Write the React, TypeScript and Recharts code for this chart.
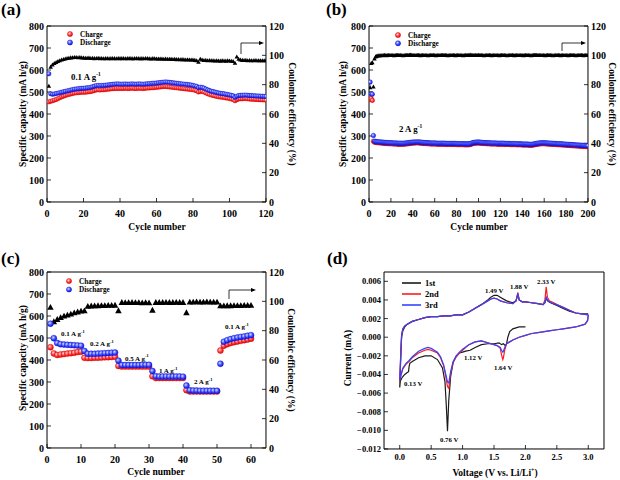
import React from 'react';
import { ComposedChart, LineChart, Line, XAxis, YAxis } from 'recharts';

const FONT = '"Liberation Serif", "Times New Roman", serif';

// (a) 0.1 A g-1 cycling, cycles 1..120 (mA h/g, %)
const chargeA = [
  455, 458, 460, 463, 466, 470, 474, 478, 481, 484,
  487, 489, 491, 493, 495, 496, 497, 498, 499, 499,
  499, 500, 501, 502, 504, 507, 509, 510, 509, 510,
  510, 511, 512, 513, 514, 515, 516, 516, 516, 516,
  516, 516, 517, 516, 516, 517, 517, 516, 516, 517,
  517, 516, 516, 517, 518, 518, 519, 519, 520, 521,
  522, 523, 524, 525, 525, 524, 523, 522, 521, 520,
  519, 518, 517, 516, 515, 514, 513, 512, 511, 510,
  508, 506, 500, 502, 503, 500, 496, 492, 489, 486,
  484, 482, 480, 478, 477, 476, 475, 473, 472, 470,
  468, 466, 460, 465, 468, 469, 469, 470, 470, 469,
  468, 467, 467, 466, 466, 465, 465, 464, 464, 463,
];
const dischargeA = [
  583, 492, 490, 491, 493, 495, 497, 499, 501, 503,
  505, 507, 509, 511, 513, 514, 515, 516, 517, 517,
  518, 519, 520, 522, 524, 527, 529, 530, 529, 530,
  530, 531, 532, 533, 534, 535, 536, 537, 537, 536,
  536, 536, 537, 536, 536, 537, 537, 536, 536, 537,
  537, 536, 536, 537, 538, 538, 539, 540, 540, 541,
  542, 543, 544, 545, 546, 545, 544, 543, 542, 541,
  540, 539, 538, 537, 536, 535, 534, 533, 532, 530,
  528, 526, 520, 522, 521, 518, 514, 510, 507, 504,
  502, 500, 498, 496, 494, 493, 492, 490, 489, 487,
  485, 483, 476, 481, 484, 485, 485, 486, 486, 485,
  484, 484, 483, 483, 482, 482, 481, 481, 480, 480,
];
const ceA = [
  79, 92, 93.5, 94.5, 95.2, 95.8, 96.3, 96.8, 97.2, 97.6,
  97.9, 98.1, 98.3, 98.4, 98.5, 98.5, 98.4, 98.5, 98.3, 98.2,
  98.1, 98.0, 98.2, 97.9, 98.0, 97.8, 97.9, 98.0, 97.8, 97.9,
  97.7, 97.8, 97.9, 97.7, 97.8, 97.9, 97.8, 97.7, 97.9, 97.8,
  97.8, 97.9, 97.7, 97.8, 97.9, 97.8, 97.7, 97.8, 97.9, 97.8,
  97.7, 97.8, 97.7, 97.9, 97.8, 97.7, 97.6, 97.8, 97.7, 97.6,
  97.6, 97.5, 97.6, 97.4, 97.5, 97.3, 97.4, 97.3, 97.2, 97.3,
  97.1, 97.2, 97.0, 97.1, 97.0, 96.9, 97.0, 96.8, 96.9, 96.8,
  96.6, 96.4, 95.3, 97.4, 96.8, 96.5, 96.6, 96.4, 96.5, 96.3,
  96.4, 96.2, 96.3, 96.2, 96.1, 96.3, 96.2, 96.1, 96.3, 96.2,
  96.0, 95.8, 94.6, 98.9, 97.4, 96.9, 96.6, 96.5, 96.6, 96.4,
  96.5, 96.4, 96.3, 96.5, 96.4, 96.3, 96.4, 96.3, 96.4, 96.3,
];

// (b) 2 A g-1 cycling, cycles 1..200
const chargeB = [
  466, 470, 462, 276, 272, 271, 270, 270, 269, 269,
  268, 268, 267, 267, 266, 266, 266, 265, 265, 265,
  265, 264, 264, 264, 264, 263, 263, 263, 263, 263,
  263, 263, 264, 264, 265, 265, 266, 267, 267, 268,
  268, 268, 269, 269, 269, 268, 268, 267, 267, 266,
  266, 266, 265, 265, 265, 264, 264, 264, 264, 264,
  264, 263, 263, 263, 263, 263, 263, 263, 263, 262,
  262, 262, 262, 262, 262, 262, 262, 262, 262, 261,
  261, 261, 261, 261, 261, 261, 260, 260, 260, 260,
  260, 261, 262, 264, 266, 267, 267, 268, 268, 268,
  268, 267, 267, 266, 266, 266, 265, 265, 265, 265,
  264, 264, 264, 264, 264, 264, 263, 263, 263, 263,
  263, 263, 263, 262, 262, 262, 262, 262, 261, 261,
  261, 261, 261, 261, 260, 260, 260, 260, 260, 259,
  259, 259, 259, 259, 259, 258, 258, 258, 258, 259,
  260, 261, 262, 263, 264, 264, 265, 265, 265, 265,
  265, 264, 264, 264, 263, 263, 263, 262, 262, 262,
  261, 261, 261, 260, 260, 260, 259, 259, 259, 258,
  258, 258, 257, 257, 257, 256, 256, 256, 255, 255,
  255, 254, 254, 254, 253, 253, 253, 252, 252, 252,
];
const dischargeB = [
  545, 492, 490, 302, 276, 275, 274, 274, 273, 273,
  272, 272, 271, 271, 270, 270, 270, 269, 269, 269,
  269, 268, 268, 268, 268, 267, 267, 267, 267, 267,
  267, 267, 268, 268, 269, 269, 270, 271, 271, 272,
  272, 272, 273, 273, 273, 272, 272, 271, 271, 270,
  270, 270, 269, 269, 269, 268, 268, 268, 268, 268,
  268, 267, 267, 267, 267, 267, 267, 267, 267, 266,
  266, 266, 266, 266, 266, 266, 266, 266, 266, 265,
  265, 265, 265, 265, 265, 265, 264, 264, 264, 264,
  264, 265, 266, 268, 270, 271, 271, 272, 272, 272,
  272, 271, 271, 270, 270, 270, 269, 269, 269, 269,
  268, 268, 268, 268, 268, 268, 267, 267, 267, 267,
  267, 267, 267, 266, 266, 266, 266, 266, 265, 265,
  265, 265, 265, 265, 264, 264, 264, 264, 264, 263,
  263, 263, 263, 263, 263, 262, 262, 262, 262, 263,
  264, 265, 266, 267, 268, 268, 269, 269, 269, 269,
  269, 268, 268, 268, 267, 267, 267, 266, 266, 266,
  265, 265, 265, 264, 264, 264, 263, 263, 263, 262,
  262, 262, 261, 261, 261, 260, 260, 260, 259, 259,
  259, 258, 258, 258, 257, 257, 257, 256, 256, 256,
];
const ceB = [
  78, 94.5, 95, 78.5, 97.5, 99, 99.4, 99.6, 99.7, 99.8,
  99.9, 99.8, 99.9, 100.0, 99.9, 99.8, 99.9, 100.0, 99.9, 99.9,
  100.0, 99.9, 99.8, 99.9, 100.0, 100.1, 99.9, 99.9, 100.0, 99.9,
  99.8, 99.9, 100.0, 100.1, 100.0, 99.9, 100.1, 100.2, 100.0, 99.9,
  100.0, 99.9, 99.9, 100.0, 100.1, 99.9, 99.8, 99.9, 100.0, 99.9,
  99.9, 100.0, 99.9, 99.8, 99.9, 100.0, 99.9, 99.9, 100.0, 99.9,
  99.8, 99.9, 100.0, 99.9, 99.9, 100.0, 100.1, 99.9, 99.9, 100.0,
  99.9, 99.8, 99.9, 100.0, 99.9, 99.9, 100.0, 99.9, 99.8, 99.9,
  100.0, 99.9, 99.9, 100.0, 99.9, 99.8, 99.9, 100.0, 99.9, 99.9,
  100.0, 100.1, 100.2, 100.1, 100.0, 99.9, 100.0, 99.9, 99.9, 100.0,
  99.9, 99.9, 100.0, 99.9, 99.8, 99.9, 100.0, 99.9, 99.9, 100.0,
  99.9, 99.8, 99.9, 100.0, 99.9, 99.9, 100.0, 99.9, 99.8, 99.9,
  100.0, 99.9, 99.9, 100.0, 99.9, 99.8, 99.9, 100.0, 99.9, 99.9,
  100.0, 99.9, 99.8, 99.9, 100.0, 99.9, 99.9, 100.0, 99.9, 99.9,
  99.8, 99.9, 100.0, 99.9, 99.9, 100.0, 99.9, 99.8, 99.9, 100.1,
  100.1, 100.0, 100.0, 99.9, 99.9, 100.0, 99.9, 99.9, 100.0, 99.9,
  99.8, 99.9, 100.0, 99.9, 99.9, 100.0, 99.9, 99.8, 99.9, 100.0,
  99.9, 99.9, 100.0, 99.9, 99.8, 99.9, 100.0, 99.9, 99.9, 100.0,
  99.9, 99.8, 99.9, 100.0, 99.9, 99.9, 100.0, 99.9, 99.8, 99.9,
  100.0, 99.9, 99.9, 100.0, 99.9, 99.8, 99.9, 100.0, 99.9, 99.9,
];

// (c) rate test, cycles 1..60
const chargeC = [
  458, 430, 423, 425, 427, 429, 431, 433, 436, 438,
  410, 409, 409, 410, 410, 411, 412, 413, 414, 415,
  373, 370, 370, 370, 370, 370, 370, 370, 370, 370,
  326, 318, 318, 318, 318, 318, 318, 318, 318, 318,
  263, 257, 257, 257, 257, 257, 257, 257, 257, 257,
  443, 465, 472, 477, 481, 484, 487, 490, 493, 497,
];
const dischargeC = [
  565, 499, 477, 472, 470, 469, 468, 467, 466, 465,
  441, 428, 428, 428, 429, 430, 431, 432, 433, 434,
  397, 377, 377, 377, 377, 377, 377, 378, 378, 378,
  350, 326, 325, 325, 325, 325, 325, 325, 325, 324,
  284, 262, 261, 261, 260, 260, 260, 260, 260, 260,
  383, 483, 490, 495, 499, 502, 505, 507, 510, 513,
];
const ceC = [
  95.8, 86, 87.5, 88.8, 89.8, 90.5, 91.2, 92, 92.6, 93.2,
  93.4, 96.5, 96.7, 96.8, 96.9, 97, 97, 97.1, 97.1, 97.2,
  93.5, 99.1, 99, 99, 99.1, 99, 99, 98.9, 99, 98.9,
  93.8, 99.1, 99.1, 99.1, 99.2, 99.1, 99.1, 99.2, 99.1, 99.1,
  92.1, 99.4, 99.4, 99.5, 99.4, 99.4, 99.5, 99.4, 99.4, 99.4,
  96.8, 96.8, 96.9, 96.9, 97, 97, 97, 97.1, 97.1, 97.1,
];
const rateLabels = [
  { text: '0.1 A g', x: 61, y: 336 },
  { text: '0.2 A g', x: 90, y: 346 },
  { text: '0.5 A g', x: 125, y: 360.5 },
  { text: '1 A g', x: 159, y: 373 },
  { text: '2 A g', x: 194, y: 384 },
  { text: '0.1 A g', x: 225, y: 329 },
];

// (d) cyclic voltammetry, [V, mA]
const cv1st: [number, number][] = [
  [2.0, 0.0011], [1.9, 0.0011], [1.8, 0.0009], [1.75, 0.0006], [1.72, 0.0], [1.7, -0.0007],
  [1.68, -0.0009], [1.65, -0.0007], [1.62, -0.0008], [1.58, -0.0006], [1.5, -0.0007], [1.4, -0.0007],
  [1.3, -0.0008], [1.2, -0.0011], [1.12, -0.0014], [1.05, -0.0015], [1.0, -0.0016], [0.95, -0.0017],
  [0.9, -0.0020], [0.85, -0.0027], [0.81, -0.0042], [0.78, -0.0068], [0.76, -0.0101], [0.74, -0.0072],
  [0.72, -0.0048], [0.68, -0.0033], [0.6, -0.0024], [0.5, -0.0020], [0.4, -0.0020], [0.3, -0.0022],
  [0.2, -0.0026], [0.16, -0.0028], [0.15, -0.0031], [0.14, -0.0037], [0.12, -0.0038], [0.08, -0.0040],
  [0.04, -0.0043], [0.01, -0.0047], [0.0, -0.0054],
  [0.01, -0.0035], [0.02, -0.0015], [0.03, 0.0], [0.05, 0.0007], [0.08, 0.0011], [0.12, 0.0014],
  [0.2, 0.0017], [0.3, 0.0019], [0.4, 0.0021], [0.5, 0.0022], [0.6, 0.0022], [0.7, 0.0023],
  [0.8, 0.0023], [0.9, 0.0024], [1.0, 0.0024], [1.1, 0.0027], [1.2, 0.0031], [1.3, 0.0035],
  [1.4, 0.0040], [1.45, 0.0043], [1.5, 0.0045], [1.55, 0.0045], [1.6, 0.0043], [1.7, 0.0039],
  [1.8, 0.0037], [1.85, 0.0039], [1.88, 0.0046], [1.9, 0.0040], [1.95, 0.0038], [2.0, 0.0038],
  [2.1, 0.0037], [2.2, 0.0036], [2.28, 0.0035], [2.31, 0.0037], [2.33, 0.0042], [2.35, 0.0039],
  [2.4, 0.0037], [2.5, 0.0034], [2.6, 0.0031], [2.7, 0.0028], [2.8, 0.0026], [2.9, 0.0025],
  [3.0, 0.0025],
];
const cv2nd: [number, number][] = [
  [3.0, 0.0024], [2.99, 0.0018], [2.95, 0.0014], [2.9, 0.0013], [2.8, 0.0011], [2.7, 0.0010],
  [2.6, 0.0009], [2.5, 0.0008], [2.4, 0.0007], [2.3, 0.0006], [2.2, 0.0005], [2.1, 0.0004],
  [2.0, 0.0002], [1.9, 0.0], [1.8, -0.0003], [1.75, -0.0005], [1.7, -0.0007], [1.67, -0.0014],
  [1.65, -0.0022], [1.64, -0.0024], [1.62, -0.0019], [1.6, -0.0012], [1.55, -0.0009], [1.5, -0.0008],
  [1.4, -0.0006], [1.3, -0.0004], [1.2, -0.0005], [1.1, -0.0008], [1.0, -0.0014], [0.95, -0.0017],
  [0.9, -0.0021], [0.85, -0.0027], [0.81, -0.0039], [0.78, -0.0055], [0.76, -0.0053], [0.73, -0.0041],
  [0.7, -0.0031], [0.65, -0.0022], [0.6, -0.0017], [0.5, -0.0014], [0.45, -0.0013], [0.4, -0.0014],
  [0.3, -0.0017], [0.2, -0.0022], [0.15, -0.0026], [0.1, -0.0029], [0.05, -0.0034], [0.02, -0.0041],
  [0.0, -0.0047],
  [0.01, -0.0030], [0.02, -0.0012], [0.03, 0.0002], [0.05, 0.0009], [0.08, 0.0012], [0.12, 0.0014],
  [0.2, 0.0017], [0.3, 0.0019], [0.4, 0.0021], [0.5, 0.0022], [0.6, 0.0022], [0.7, 0.0023],
  [0.8, 0.0023], [0.9, 0.0024], [1.0, 0.0024], [1.1, 0.0027], [1.2, 0.0031], [1.3, 0.0035],
  [1.4, 0.0039], [1.45, 0.0041], [1.5, 0.0042], [1.55, 0.0041], [1.6, 0.0039], [1.7, 0.0037],
  [1.8, 0.0036], [1.85, 0.0039], [1.88, 0.0048], [1.9, 0.0040], [1.95, 0.0038], [2.0, 0.0038],
  [2.1, 0.0037], [2.2, 0.0036], [2.28, 0.0035], [2.31, 0.0040], [2.33, 0.0054], [2.35, 0.0043],
  [2.38, 0.0039], [2.45, 0.0037], [2.5, 0.0035], [2.6, 0.0032], [2.7, 0.0029], [2.8, 0.0026],
  [2.9, 0.0025], [3.0, 0.0024],
];
const cv3rd: [number, number][] = [
  [3.0, 0.0024], [2.99, 0.0018], [2.95, 0.0014], [2.9, 0.0013], [2.8, 0.0011], [2.7, 0.0010],
  [2.6, 0.0009], [2.5, 0.0008], [2.4, 0.0007], [2.3, 0.0006], [2.2, 0.0005], [2.1, 0.0004],
  [2.0, 0.0002], [1.9, 0.0], [1.8, -0.0003], [1.75, -0.0005], [1.7, -0.0007], [1.67, -0.0011],
  [1.65, -0.0015], [1.64, -0.0016], [1.62, -0.0014], [1.6, -0.0011], [1.55, -0.0009], [1.5, -0.0008],
  [1.4, -0.0006], [1.3, -0.0004], [1.2, -0.0005], [1.1, -0.0008], [1.0, -0.0013], [0.95, -0.0016],
  [0.9, -0.0020], [0.85, -0.0026], [0.81, -0.0037], [0.78, -0.0049], [0.76, -0.0048], [0.73, -0.0039],
  [0.7, -0.0030], [0.65, -0.0021], [0.6, -0.0016], [0.5, -0.0012], [0.45, -0.0011], [0.4, -0.0012],
  [0.3, -0.0015], [0.2, -0.0021], [0.15, -0.0025], [0.1, -0.0028], [0.05, -0.0033], [0.02, -0.0040],
  [0.0, -0.0046],
  [0.01, -0.0029], [0.02, -0.0011], [0.03, 0.0003], [0.05, 0.0009], [0.08, 0.0012], [0.12, 0.0014],
  [0.2, 0.0017], [0.3, 0.0019], [0.4, 0.0021], [0.5, 0.0022], [0.6, 0.0022], [0.7, 0.0023],
  [0.8, 0.0023], [0.9, 0.0024], [1.0, 0.0024], [1.1, 0.0027], [1.2, 0.0031], [1.3, 0.0035],
  [1.4, 0.0039], [1.45, 0.0041], [1.5, 0.0042], [1.55, 0.0041], [1.6, 0.0039], [1.7, 0.0037],
  [1.8, 0.0036], [1.85, 0.0039], [1.88, 0.0047], [1.9, 0.0040], [1.95, 0.0038], [2.0, 0.0038],
  [2.1, 0.0037], [2.2, 0.0036], [2.28, 0.0035], [2.31, 0.0037], [2.33, 0.0043], [2.35, 0.0040],
  [2.38, 0.0038], [2.45, 0.0036], [2.5, 0.0035], [2.6, 0.0032], [2.7, 0.0029], [2.8, 0.0026],
  [2.9, 0.0025], [3.0, 0.0024],
];
const peakLabels = [
  { text: '0.13 V', x: 404, y: 386 },
  { text: '0.76 V', x: 440, y: 442 },
  { text: '1.12 V', x: 464, y: 360 },
  { text: '1.64 V', x: 494, y: 370 },
  { text: '1.49 V', x: 485, y: 293 },
  { text: '1.88 V', x: 510, y: 289 },
  { text: '2.33 V', x: 537, y: 284 },
];

// ticks
const capTicks = [0, 100, 200, 300, 400, 500, 600, 700, 800];
const capMinor = [50, 150, 250, 350, 450, 550, 650, 750];
const ceTicks = [0, 20, 40, 60, 80, 100, 120];
const ceMinor = [10, 30, 50, 70, 90, 110];
const cycTicksA = [0, 20, 40, 60, 80, 100, 120];
const cycMinorA = [10, 30, 50, 70, 90, 110];
const cycTicksB = [0, 20, 40, 60, 80, 100, 120, 140, 160, 180, 200];
const cycMinorB = [10, 30, 50, 70, 90, 110, 130, 150, 170, 190];
const cycTicksC = [0, 10, 20, 30, 40, 50, 60];
const cycMinorC = [5, 15, 25, 35, 45, 55];
const vTicks = [0, 0.5, 1.0, 1.5, 2.0, 2.5, 3.0];
const vMinor = [0.25, 0.75, 1.25, 1.75, 2.25, 2.75];
const iTicks = [-0.012, -0.01, -0.008, -0.006, -0.004, -0.002, 0, 0.002, 0.004, 0.006];
const iMinor = [-0.011, -0.009, -0.007, -0.005, -0.003, -0.001, 0.001, 0.003, 0.005];

const toRows = (charge: number[], discharge: number[], ce: number[]) =>
  charge.map((c, i) => ({ cycle: i + 1, charge: c, discharge: discharge[i], ce: ce[i] }));
const toCv = (pts: [number, number][]) => pts.map(([v, i]) => ({ v, i }));

const ball = (id: string, r: number, edge: string) => (p: any) =>
  p.cx == null || p.cy == null ? (
    <g key={p.index} />
  ) : (
    <circle key={p.index} cx={p.cx} cy={p.cy} r={r} fill={`url(#${id})`} stroke={edge} strokeWidth={0.4} />
  );

const tri = (s: number) => (p: any) =>
  p.cx == null || p.cy == null ? (
    <g key={p.index} />
  ) : (
    <path
      key={p.index}
      d={`M${p.cx},${p.cy - s * 0.55}L${p.cx + s / 2},${p.cy + s * 0.35}L${p.cx - s / 2},${p.cy + s * 0.35}Z`}
      fill="#000"
    />
  );

type Frame = {
  xKey: string;
  xDomain: [number, number];
  xTicks: number[];
  xMinor: number[];
  lDomain: [number, number];
  lTicks: number[];
  lMinor: number[];
  rTicks?: number[];
  rMinor?: number[];
  font: number;
  xGap: number;
  xFmt?: (v: number) => string;
  lFmt?: (v: number) => string;
};

// axes get a hair of size (recharts skips zero-sized ones); margins place the plot box
const HAIR = 0.01;

// Origin-style box: inward major + minor ticks, plain top (and right) line
function frameAxes(f: Frame) {
  const line = { stroke: '#000', strokeWidth: 1 };
  const tl = { stroke: '#000', strokeWidth: 0.8 };
  const tk = { fontSize: f.font, fontWeight: 700, fill: '#000', fontFamily: FONT };
  const out = [
    <XAxis key="x" xAxisId="x" type="number" dataKey={f.xKey} domain={f.xDomain} ticks={f.xTicks}
      interval={0} allowDataOverflow height={HAIR} axisLine={line} tickLine={tl} tickSize={-4}
      tickMargin={f.xGap} tick={tk} tickFormatter={f.xFmt} />,
    <XAxis key="xm" xAxisId="xm" type="number" domain={f.xDomain} ticks={f.xMinor} interval={0}
      allowDataOverflow height={HAIR} axisLine={false} tickLine={tl} tickSize={-2} tick={false} />,
    <XAxis key="xt" xAxisId="xt" orientation="top" type="number" domain={f.xDomain} height={HAIR}
      axisLine={line} tickLine={false} tick={false} />,
    <YAxis key="l" yAxisId="l" type="number" domain={f.lDomain} ticks={f.lTicks} interval={0}
      allowDataOverflow width={HAIR} axisLine={line} tickLine={tl} tickSize={-4} tickMargin={7}
      tick={tk} tickFormatter={f.lFmt} />,
    <YAxis key="lm" yAxisId="lm" type="number" domain={f.lDomain} ticks={f.lMinor} interval={0}
      allowDataOverflow width={HAIR} axisLine={false} tickLine={tl} tickSize={-2} tick={false} />,
  ];
  if (f.rTicks && f.rMinor) {
    out.push(
      <YAxis key="r" yAxisId="r" orientation="right" type="number" domain={[0, 120]} ticks={f.rTicks}
        interval={0} allowDataOverflow width={HAIR} axisLine={line} tickLine={tl} tickSize={-4}
        tickMargin={7} tick={tk} />,
      <YAxis key="rm" yAxisId="rm" orientation="right" type="number" domain={[0, 120]} ticks={f.rMinor}
        interval={0} allowDataOverflow width={HAIR} axisLine={false} tickLine={tl} tickSize={-2} tick={false} />,
    );
  } else {
    out.push(
      <YAxis key="r" yAxisId="r" orientation="right" type="number" domain={f.lDomain} width={HAIR}
        axisLine={line} tickLine={false} tick={false} />,
    );
  }
  return out;
}

function CyclePanel(props: {
  left: number;
  top: number;
  margin: { top: number; right: number; bottom: number; left: number };
  rows: any[];
  frame: Frame;
  r: number;
  triSize: number;
}) {
  const { left, top, margin, rows, frame, r, triSize } = props;
  return (
    <div style={{ position: 'absolute', left, top }}>
      <ComposedChart width={310} height={240} data={rows} margin={margin}>
        {frameAxes(frame)}
        <Line xAxisId="x" yAxisId="r" dataKey="ce" stroke="none" dot={tri(triSize)} activeDot={false}
          isAnimationActive={false} />
        <Line xAxisId="x" yAxisId="l" dataKey="charge" stroke="none" dot={ball('gRed', r, '#d40000')}
          activeDot={false} isAnimationActive={false} />
        <Line xAxisId="x" yAxisId="l" dataKey="discharge" stroke="none" dot={ball('gBlue', r, '#1010d0')}
          activeDot={false} isAnimationActive={false} />
      </ComposedChart>
    </div>
  );
}

const txt = { fontFamily: FONT, fontWeight: 700, fill: '#000' } as const;

function Sup({ base, sup, x, y, size }: { base: string; sup: string; x: number; y: number; size: number }) {
  return (
    <text x={x} y={y} fontSize={size} {...txt}>
      {base}
      <tspan dy={-size * 0.45} fontSize={size * 0.62}>{sup}</tspan>
    </text>
  );
}

function Legend2({ x, y, dy }: { x: number; y: number; dy: number }) {
  return (
    <g>
      <circle cx={x} cy={y} r={2.6} fill="url(#gRed)" stroke="#d40000" strokeWidth={0.4} />
      <text x={x + 10} y={y + 2.5} fontSize={7.2} {...txt}>Charge</text>
      <circle cx={x} cy={y + dy} r={2.6} fill="url(#gBlue)" stroke="#1010d0" strokeWidth={0.4} />
      <text x={x + 10} y={y + dy + 2.5} fontSize={7.2} {...txt}>Discharge</text>
    </g>
  );
}

function Arrow({ x, y0, y1, x1 }: { x: number; y0: number; y1: number; x1: number }) {
  return (
    <g>
      <path d={`M${x},${y0}V${y1}H${x1 - 3}`} fill="none" stroke="#000" strokeWidth={0.8} />
      <path d={`M${x1},${y1}L${x1 - 5},${y1 - 2}L${x1 - 5},${y1 + 2}Z`} fill="#000" />
    </g>
  );
}

function YTitle({ x, y, rot, text }: { x: number; y: number; rot: number; text: string }) {
  return (
    <text x={x} y={y} transform={`rotate(${rot} ${x} ${y})`} textAnchor="middle" fontSize={9.5} {...txt}>
      {text}
    </text>
  );
}

export default function App() {
  const rowsA = toRows(chargeA, dischargeA, ceA);
  const rowsB = toRows(chargeB, dischargeB, ceB);
  const rowsC = toRows(chargeC, dischargeC, ceC);
  const dFmt = (v: number) => (v < 0 ? '\u2212' + Math.abs(v).toFixed(3) : v.toFixed(3));

  return (
    <div style={{ position: 'absolute', left: 0, top: 0, width: 620, height: 480, background: '#fff', fontFamily: FONT }}>
      <svg width={0} height={0} style={{ position: 'absolute' }}>
        <defs>
          <radialGradient id="gRed" cx="40%" cy="38%" r="65%">
            <stop offset="0%" stopColor="#ffd6d6" />
            <stop offset="55%" stopColor="#ff3a3a" />
            <stop offset="100%" stopColor="#e00000" />
          </radialGradient>
          <radialGradient id="gBlue" cx="40%" cy="38%" r="65%">
            <stop offset="0%" stopColor="#d6dcff" />
            <stop offset="55%" stopColor="#3a4cff" />
            <stop offset="100%" stopColor="#0a0ae0" />
          </radialGradient>
        </defs>
      </svg>

      <CyclePanel
        left={0}
        top={0}
        margin={{ top: 26, right: 44, bottom: 38, left: 47 }}
        rows={rowsA}
        r={2.2}
        triSize={4.5}
        frame={{
          xKey: 'cycle', xDomain: [0, 120], xTicks: cycTicksA, xMinor: cycMinorA,
          lDomain: [0, 800], lTicks: capTicks, lMinor: capMinor, rTicks: ceTicks, rMinor: ceMinor,
          font: 10, xGap: 12,
        }}
      />
      <CyclePanel
        left={310}
        top={0}
        margin={{ top: 26, right: 32, bottom: 38, left: 59 }}
        rows={rowsB}
        r={2.3}
        triSize={4.5}
        frame={{
          xKey: 'cycle', xDomain: [0, 200], xTicks: cycTicksB, xMinor: cycMinorB,
          lDomain: [0, 800], lTicks: capTicks, lMinor: capMinor, rTicks: ceTicks, rMinor: ceMinor,
          font: 10, xGap: 12,
        }}
      />
      <CyclePanel
        left={0}
        top={240}
        margin={{ top: 32, right: 44, bottom: 32, left: 47 }}
        rows={rowsC}
        r={3}
        triSize={6.5}
        frame={{
          xKey: 'cycle', xDomain: [0, 64.4], xTicks: cycTicksC, xMinor: cycMinorC,
          lDomain: [0, 800], lTicks: capTicks, lMinor: capMinor, rTicks: ceTicks, rMinor: ceMinor,
          font: 10, xGap: 12,
        }}
      />
      <div style={{ position: 'absolute', left: 310, top: 240 }}>
        <LineChart width={310} height={240} margin={{ top: 32, right: 16, bottom: 31, left: 74 }}>
          {frameAxes({
            xKey: 'v', xDomain: [-0.25, 3.25], xTicks: vTicks, xMinor: vMinor,
            lDomain: [-0.012, 0.007], lTicks: iTicks, lMinor: iMinor, font: 8.5, xGap: 9,
            xFmt: (v: number) => v.toFixed(1), lFmt: dFmt,
          })}
          <Line data={toCv(cv1st)} xAxisId="x" yAxisId="l" dataKey="i" type="linear" stroke="#1a1a1a"
            strokeWidth={1.2} dot={false} activeDot={false} isAnimationActive={false} />
          <Line data={toCv(cv2nd)} xAxisId="x" yAxisId="l" dataKey="i" type="linear" stroke="#ff1a1a"
            strokeWidth={1.2} dot={false} activeDot={false} isAnimationActive={false} />
          <Line data={toCv(cv3rd)} xAxisId="x" yAxisId="l" dataKey="i" type="linear" stroke="#3344ff"
            strokeWidth={1.2} dot={false} activeDot={false} isAnimationActive={false} />
        </LineChart>
      </div>

      <svg width={620} height={480} style={{ position: 'absolute', left: 0, top: 0, pointerEvents: 'none' }}>
        <text x={1} y={15} fontSize={17} {...txt}>(a)</text>
        <text x={326} y={15} fontSize={17} {...txt}>(b)</text>
        <text x={1} y={264} fontSize={17} {...txt}>(c)</text>
        <text x={327} y={264} fontSize={17} {...txt}>(d)</text>

        {/* axis titles */}
        <text x={157} y={230} textAnchor="middle" fontSize={9.5} {...txt}>Cycle number</text>
        <YTitle x={25.5} y={114} rot={-90} text="Specific capacity (mA h/g)" />
        <YTitle x={289} y={114} rot={90} text="Coulombic efficiency (%)" />
        <text x={479} y={230} textAnchor="middle" fontSize={9.5} {...txt}>Cycle number</text>
        <YTitle x={346} y={114} rot={-90} text="Specific capacity (mA h/g)" />
        <YTitle x={609} y={114} rot={90} text="Coulombic efficiency (%)" />
        <text x={156} y={475} textAnchor="middle" fontSize={9.5} {...txt}>Cycle number</text>
        <YTitle x={25.5} y={358} rot={-90} text="Specific capacity (mA h/g)" />
        <YTitle x={288} y={360} rot={90} text="Coulombic efficiency (%)" />
        <YTitle x={351} y={358} rot={-90} text="Current (mA)" />
        <text x={495} y={476} textAnchor="middle" fontSize={9.5} {...txt}>
          Voltage (V vs. Li/Li<tspan dy={-4} fontSize={6}>+</tspan><tspan dy={4}>)</tspan>
        </text>

        {/* legends */}
        <Legend2 x={70} y={34} dy={8.5} />
        <Legend2 x={398} y={35} dy={8.3} />
        <Legend2 x={69} y={281} dy={8.5} />
        {[
          { name: '1st', color: '#1a1a1a', y: 283 },
          { name: '2nd', color: '#ff1a1a', y: 294 },
          { name: '3rd', color: '#3344ff', y: 305 },
        ].map((s) => (
          <g key={s.name}>
            <line x1={402} x2={421} y1={s.y} y2={s.y} stroke={s.color} strokeWidth={1.6} />
            <text x={425} y={s.y + 3.2} fontSize={8.5} {...txt}>{s.name}</text>
          </g>
        ))}

        {/* arrows to right axis */}
        <Arrow x={241} y0={54} y1={43} x1={264} />
        <Arrow x={562} y0={51} y1={43} x1={586} />
        <Arrow x={229} y0={299} y1={290} x1={256} />

        {/* current density notes */}
        <Sup base="0.1 A g" sup="-1" x={71} y={80} size={8.8} />
        <Sup base="2 A g" sup="-1" x={399} y={132} size={8.8} />
        {rateLabels.map((l, k) => (
          <Sup key={k} base={l.text} sup="-1" x={l.x} y={l.y} size={7} />
        ))}
        {peakLabels.map((l) => (
          <text key={l.text} x={l.x} y={l.y} fontSize={6.8} {...txt}>{l.text}</text>
        ))}
      </svg>
    </div>
  );
}
